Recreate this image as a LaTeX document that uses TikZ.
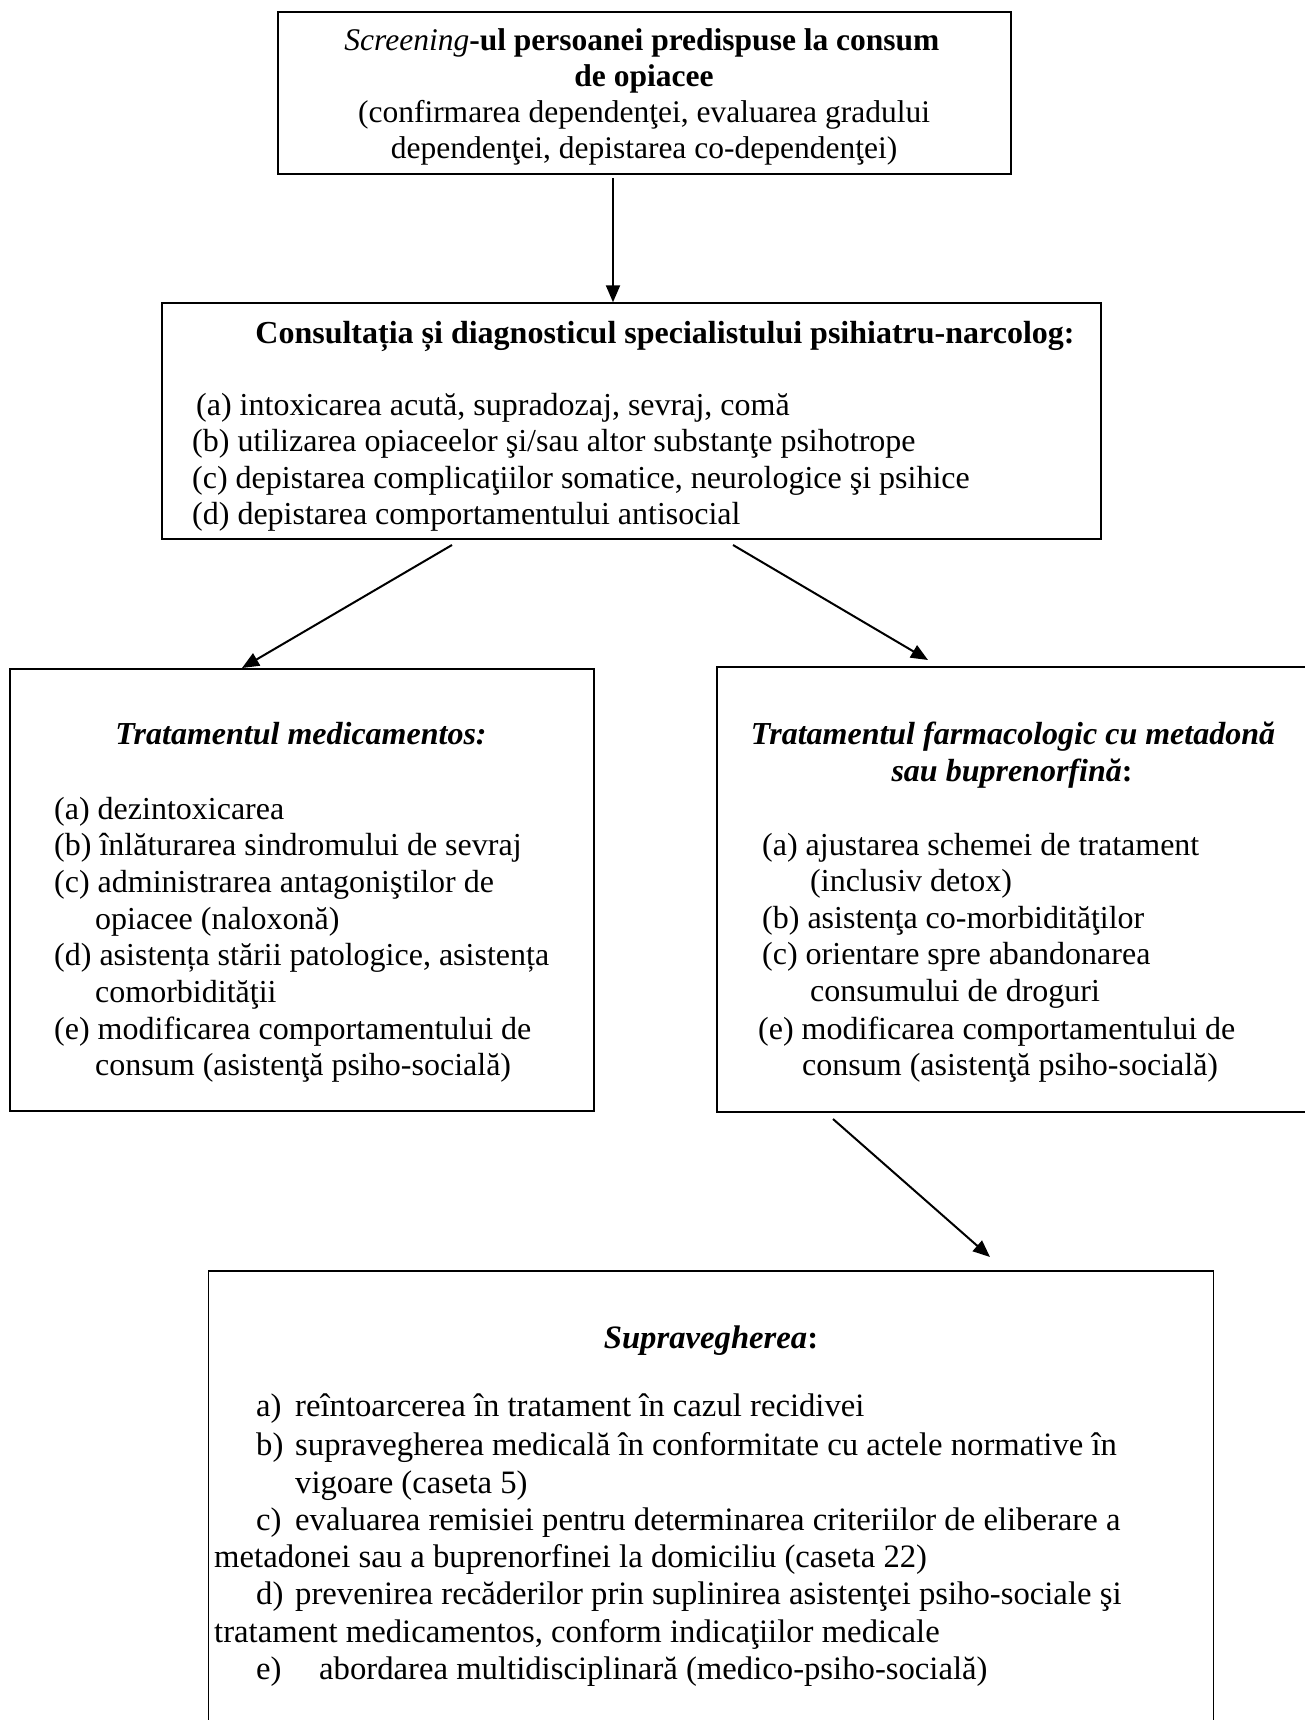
\documentclass[tikz,border=0pt]{standalone}
\usepackage{fontspec}
\setmainfont{Liberation Serif}
\usetikzlibrary{arrows.meta}
\tikzset{
  box/.style={draw=black, line width=1.4pt, inner sep=0pt},
  arr/.style={line width=2pt, -{Triangle[length=17pt,width=14pt]}},
  lt/.style={inner sep=0pt, anchor=base west},
  ct/.style={inner sep=0pt, anchor=base},
  fa/.style={font=\fontsize{31.5}{36}\selectfont},
  fe/.style={font=\fontsize{32.7}{38}\selectfont},
}
\begin{document}
\begin{tikzpicture}[x=1pt,y=-1pt,every node/.style={font=\fontsize{32}{36}\selectfont}]
\path[use as bounding box, fill=white] (0,0) rectangle (1305,1720);
\clip (0,0) rectangle (1305,1720);
% boxes
\node[box, minimum width=733pt, minimum height=162pt] (b1) at (644.5,93) {};
\node[box, minimum width=939pt, minimum height=236pt] (b2) at (631.5,421) {};
\node[box, minimum width=584pt, minimum height=442pt] (b3) at (302,890) {};
\node[box, minimum width=620pt, minimum height=445pt] (b4) at (1027,889.5) {};
\node[box, minimum width=1005pt, minimum height=480pt] (b5) at (711,1511) {};
% box 1 text
\node[ct, fa] (t1a) at (642,51) {\textit{Screening}\textbf{-ul persoanei predispuse la consum}};
\node[ct, fa] (t1b) at (644,87) {\textbf{de opiacee}};
\node[ct, fa] (t1c) at (644,123) {(confirmarea dependenţei, evaluarea gradului};
\node[ct, fa] (t1d) at (644,159) {dependenţei, depistarea co-dependenţei)};
% box 2 text
\node[ct] (t2h) at (665,343) {\textbf{Consultația și diagnosticul specialistului psihiatru-narcolog:}};
\node[lt] (t2a) at (196,415) {(a) intoxicarea acută, supradozaj, sevraj, comă};
\node[lt] (t2b) at (192,451) {(b) utilizarea opiaceelor şi/sau altor substanţe psihotrope};
\node[lt] (t2c) at (192,488) {(c) depistarea complicaţiilor somatice, neurologice şi psihice};
\node[lt] (t2d) at (192,524) {(d) depistarea comportamentului antisocial};
% box 3 text
\node[ct] (t3h) at (301,744) {\textbf{\textit{Tratamentul medicamentos:}}};
\node[lt] (t3a) at (54,819) {(a) dezintoxicarea};
\node[lt] (t3b) at (54,855) {(b) înlăturarea sindromului de sevraj};
\node[lt] (t3c) at (54,892) {(c) administrarea antagoniştilor de};
\node[lt] (t3c2) at (95,929) {opiacee (naloxonă)};
\node[lt] (t3d) at (54,965) {(d) asistența stării patologice, asistența};
\node[lt] (t3d2) at (95,1002) {comorbidităţii};
\node[lt] (t3e) at (54,1039) {(e) modificarea comportamentului de};
\node[lt] (t3e2) at (95,1075) {consum (asistenţă psiho-socială)};
% box 4 text
\node[ct] (t4h1) at (1013,744) {\textbf{\textit{Tratamentul farmacologic cu metadonă}}};
\node[ct] (t4h2) at (1012,781) {\textbf{\textit{sau buprenorfină}:}};
\node[lt] (t4a) at (762,855) {(a) ajustarea schemei de tratament};
\node[lt] (t4a2) at (810,891) {(inclusiv detox)};
\node[lt] (t4b) at (762,928) {(b) asistenţa co-morbidităţilor};
\node[lt] (t4c) at (762,964) {(c) orientare spre abandonarea};
\node[lt] (t4c2) at (810,1001) {consumului de droguri};
\node[lt] (t4e) at (758,1039) {(e) modificarea comportamentului de};
\node[lt] (t4e2) at (802,1075) {consum (asistenţă psiho-socială)};
% box 5 text
\node[ct, fe] (t5h) at (711,1348) {\textbf{\textit{Supravegherea}:}};
\node[lt, fe] (t5a) at (256,1416) {a)};
\node[lt, fe] (t5at) at (295,1416) {reîntoarcerea în tratament în cazul recidivei};
\node[lt, fe] (t5b) at (256,1455) {b)};
\node[lt, fe] (t5bt) at (295,1455) {supravegherea medicală în conformitate cu actele normative în};
\node[lt, fe] (t5b2) at (295,1493) {vigoare (caseta 5)};
\node[lt, fe] (t5c) at (256,1530) {c)};
\node[lt, fe] (t5ct) at (295,1530) {evaluarea remisiei pentru determinarea criteriilor de eliberare a};
\node[lt, fe] (t5c2) at (214,1567) {metadonei sau a buprenorfinei la domiciliu (caseta 22)};
\node[lt, fe] (t5d) at (256,1604) {d)};
\node[lt, fe] (t5dt) at (295,1604) {prevenirea recăderilor prin suplinirea asistenţei psiho-sociale şi};
\node[lt, fe] (t5d2) at (214,1642) {tratament medicamentos, conform indicaţiilor medicale};
\node[lt, fe] (t5e) at (256,1679) {e)};
\node[lt, fe] (t5et) at (319,1679) {abordarea multidisciplinară (medico-psiho-socială)};
% connectors
\coordinate (p1) at (613,178);
\coordinate (p2) at (452,545);
\coordinate (p2t) at (242,668);
\coordinate (p3) at (733,545);
\coordinate (p3t) at (928,660);
\coordinate (p4) at (833,1119);
\coordinate (p4t) at (990,1257);
\draw[arr] (p1) -- (p1 |- b2.north);
\draw[arr] (p2) -- (p2t);
\draw[arr] (p3) -- (p3t);
\draw[arr] (p4) -- (p4t);
\end{tikzpicture}
\end{document}
